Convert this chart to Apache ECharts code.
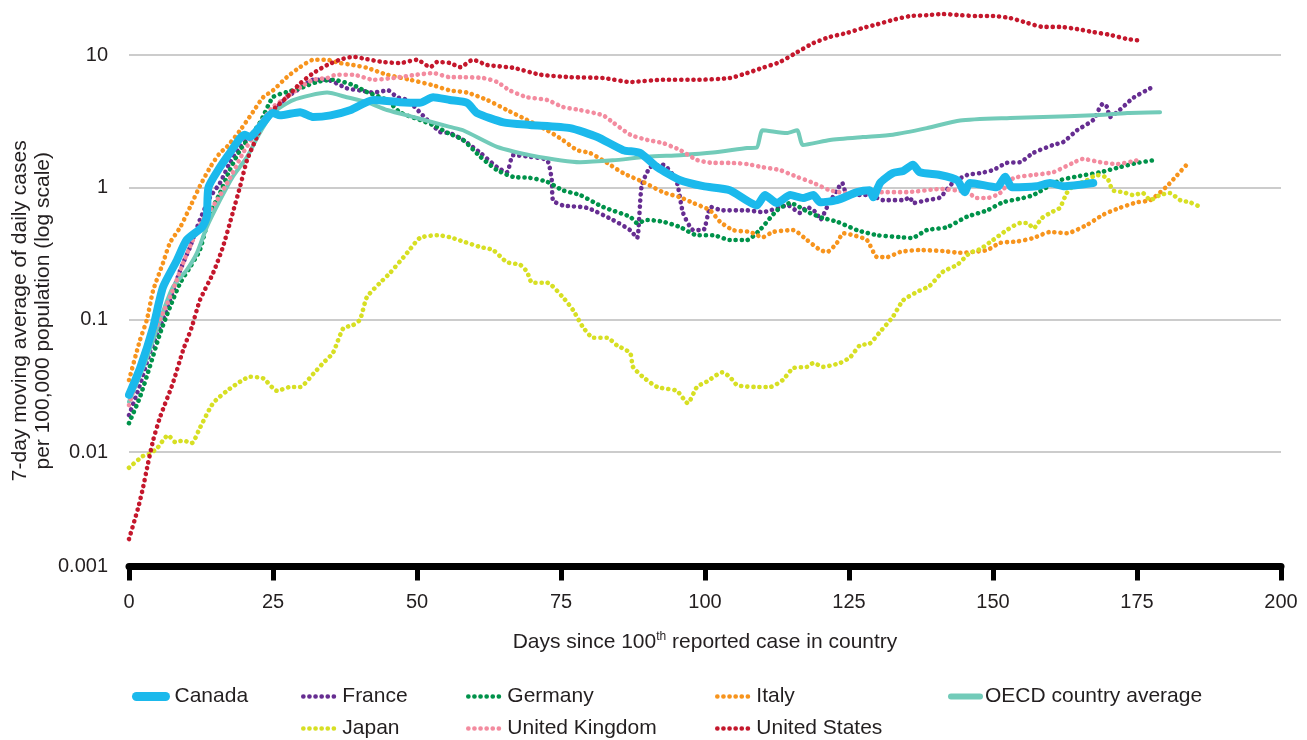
<!DOCTYPE html>
<html>
<head>
<meta charset="utf-8">
<title>7-day moving average of daily cases</title>
<script src="https://cdn.jsdelivr.net/npm/echarts@6/dist/echarts.min.js"></script>
<style>
  html, body { margin: 0; padding: 0; background: #fff; }
  #main { width: 1307px; height: 740px; }
</style>
</head>
<body>
<div id="main"></div>
<script>
// [day since 100th case, 7-day avg cases per 100,000]
var canadaData = [[0,0.027],[2,0.044],[4.2,0.088],[5.9,0.176],[8.3,0.28],[10,0.40],[12.7,0.5],[13.5,0.6],[13.8,1.0],[15.8,1.42],[17.5,1.82],[19.3,2.36],[20.1,2.5],[21,2.4],[22.7,2.86],[25,3.65],[26.2,3.5],[29.7,3.7],[32,3.4],[35,3.5],[38.5,3.84],[42.4,4.57],[47,4.4],[50.5,4.35],[52.8,4.8],[55.7,4.57],[58.7,4.35],[60.4,3.65],[65,3.1],[69.6,2.96],[76.6,2.8],[81.3,2.4],[85.8,1.91],[88.7,1.82],[91.7,1.42],[95.7,1.13],[99.7,1.02],[104.3,0.95],[109,0.73],[110.4,0.875],[112.5,0.76],[114.8,0.875],[117,0.83],[118.8,0.875],[120,0.77],[122.9,0.8],[126.4,0.92],[128.6,0.95],[129.2,0.84],[130.4,1.08],[132.6,1.28],[134.4,1.33],[136.1,1.48],[137.3,1.3],[140.8,1.24],[143.8,1.13],[145.1,0.92],[146,1.08],[150.7,1.0],[152.1,1.2],[153.3,1.0],[157.6,1.02],[159.9,1.08],[162.2,1.02],[167.4,1.08]];
var franceData = [[0,0.019],[2,0.033],[3.6,0.056],[5.4,0.088],[7.1,0.14],[8.9,0.237],[10.6,0.354],[12.3,0.567],[14.1,0.845],[15.8,1.08],[17.5,1.53],[19.3,2.02],[22.7,2.86],[25,3.7],[27.4,4.8],[29.7,5.6],[32,6.5],[34.4,6.5],[37.8,5.6],[40.1,5.4],[42.4,5.2],[45,5.4],[46.5,4.8],[48.3,4.57],[51,3.5],[54,2.62],[55.7,2.57],[58,2.28],[61,1.82],[63.9,1.42],[65.6,1.3],[66.7,1.75],[69.6,1.7],[72.6,1.6],[73.4,1.13],[73.6,0.8],[75.3,0.73],[79.5,0.7],[84,0.567],[87,0.475],[88.2,0.414],[89,1.02],[90.5,1.42],[92.7,1.48],[95,1.13],[96.2,0.64],[98,0.475],[99.7,0.475],[101,0.71],[103,0.67],[107.3,0.67],[110,0.65],[114.4,0.73],[116.5,0.64],[117.7,0.71],[119.4,0.64],[120,0.567],[121.2,0.71],[122.9,0.95],[123.8,1.08],[124.7,0.875],[128.6,0.875],[130.9,0.8],[134.4,0.8],[135.6,0.84],[136.1,0.76],[138.5,0.8],[140.8,0.84],[143,1.08],[145.5,1.24],[147.7,1.28],[150,1.35],[152.4,1.53],[154.7,1.55],[157,1.82],[160.4,2.09],[162.2,2.2],[164.6,2.7],[167.4,3.23],[168.6,4.05],[169.1,4.3],[169.8,4.05],[170.3,3.4],[172,3.84],[174.3,4.73],[177.3,5.6]];
var germanyData = [[0,0.0165],[1.9,0.026],[3.6,0.044],[5.4,0.079],[7.1,0.124],[8.9,0.19],[10.6,0.25],[12.3,0.336],[14.1,0.64],[15.8,0.905],[17.5,1.35],[19.3,1.91],[22.7,3.06],[25,4.8],[27.4,5.25],[29.7,5.6],[32.6,6.25],[35.4,6.5],[38.9,5.93],[41.3,5.25],[44.8,4.57],[47,3.7],[50.5,3.23],[52.8,2.96],[55.4,2.57],[58,2.28],[61,1.7],[63.9,1.35],[66.7,1.2],[69.6,1.18],[72.6,1.1],[75.3,0.95],[78.3,0.875],[82.3,0.71],[87,0.6],[88.2,0.537],[90,0.567],[92.7,0.55],[95.7,0.5],[98.6,0.435],[101.4,0.435],[104.3,0.4],[107.3,0.4],[109.5,0.475],[112.5,0.67],[114.8,0.76],[118.2,0.64],[120.5,0.586],[122.9,0.55],[126.4,0.475],[129.9,0.435],[133.9,0.42],[135.9,0.414],[138.5,0.475],[142,0.5],[145.5,0.6],[149,0.67],[151.7,0.77],[155.2,0.83],[157,0.875],[161.6,1.13],[165.1,1.22],[168.6,1.3],[172,1.42],[175,1.53],[177.8,1.6]];
var italyData = [[0,0.035],[1.9,0.07],[3.1,0.1],[4.2,0.167],[5.9,0.268],[7.1,0.38],[8.9,0.5],[10.6,0.71],[12.3,1.02],[14.1,1.42],[15.8,1.82],[17,2.02],[19.3,2.7],[21.5,3.7],[23.3,4.8],[25,5.4],[27.4,6.8],[29.7,8.1],[32,9.2],[34.4,9.2],[36.6,8.7],[38.9,8.4],[41.3,8.0],[44.8,7.1],[48.8,6.5],[52.8,5.9],[55.7,5.4],[58.7,5.2],[62.2,4.57],[65.6,3.84],[69.1,3.23],[72.6,2.7],[75.3,2.28],[77.8,1.91],[80,1.82],[83,1.53],[85.8,1.28],[89.2,1.1],[92.7,0.92],[95.7,0.84],[98,0.76],[100.9,0.67],[102.6,0.55],[104.9,0.475],[107.8,0.46],[110,0.42],[111.8,0.46],[115.3,0.475],[117.7,0.4],[120,0.336],[121.2,0.325],[122.9,0.38],[124,0.45],[125.7,0.435],[128.1,0.4],[129.9,0.297],[131.6,0.297],[133.9,0.325],[137.3,0.336],[141.3,0.33],[144.3,0.32],[146.5,0.325],[149,0.336],[151.2,0.38],[154.2,0.39],[157,0.414],[159.9,0.46],[162.8,0.45],[166.3,0.52],[169.1,0.62],[172,0.7],[175,0.77],[177.3,0.8],[180.2,1.02],[182,1.24],[183.9,1.53]];
var oecdData = [[0,0.024],[3,0.05],[5.4,0.1],[7.6,0.176],[10,0.237],[11.8,0.32],[13.5,0.5],[15.8,0.8],[18,1.2],[20.5,1.7],[22.7,2.57],[25,3.65],[28.5,4.57],[34.4,5.2],[37.8,4.8],[41.3,4.4],[44.8,3.84],[50,3.34],[55.7,2.86],[58,2.7],[63.9,2.02],[69.6,1.75],[78.3,1.55],[84,1.6],[90,1.7],[95.7,1.75],[101.4,1.83],[107.3,1.98],[109,2.0],[110,2.7],[114.2,2.57],[116,2.7],[117,2.09],[121.7,2.28],[127.4,2.4],[132.6,2.5],[138.5,2.8],[144.3,3.2],[153,3.34],[158.7,3.4],[167.4,3.5],[173.3,3.65],[179,3.7]];
var japanData = [[0,0.0076],[2.4,0.0093],[3.6,0.0097],[4.9,0.0107],[6.8,0.0134],[8,0.0119],[9.4,0.0122],[10.9,0.0117],[12.3,0.0152],[14.6,0.0234],[17,0.029],[19.3,0.034],[21,0.037],[23.3,0.036],[25.7,0.029],[28,0.031],[29.7,0.031],[32,0.039],[33.7,0.047],[35.4,0.056],[37.2,0.086],[38.9,0.091],[40.1,0.1],[41.3,0.148],[43.6,0.19],[45.3,0.225],[48.3,0.32],[50.5,0.414],[53.5,0.435],[55.7,0.42],[58,0.39],[61,0.354],[63.2,0.336],[65.6,0.272],[67.9,0.26],[69.1,0.23],[70,0.19],[72.6,0.19],[75.3,0.148],[77.1,0.118],[78.8,0.088],[80.6,0.073],[83,0.073],[84.7,0.064],[87,0.056],[87.5,0.044],[89.2,0.037],[91.7,0.031],[95.1,0.029],[97,0.0234],[98.6,0.031],[100.3,0.034],[103,0.04],[104.3,0.037],[105.6,0.032],[109,0.031],[111.3,0.031],[113.5,0.035],[115.3,0.043],[117.7,0.044],[118.8,0.047],[120.5,0.044],[123.4,0.047],[125.2,0.052],[126.9,0.064],[128.6,0.066],[130.4,0.081],[132.6,0.105],[134.4,0.14],[136.8,0.162],[139,0.18],[141.3,0.23],[143.8,0.26],[146,0.32],[147.7,0.34],[150,0.4],[152.4,0.475],[154.7,0.537],[156,0.537],[157,0.49],[158.5,0.586],[160.2,0.65],[161.6,0.7],[162.8,0.905],[163.9,1.02],[166.3,1.13],[168,1.24],[169.8,1.18],[170.8,0.95],[172.6,0.92],[174.3,0.875],[176,0.905],[177.3,0.8],[179,0.875],[180.7,0.905],[182.5,0.8],[184.2,0.77],[186,0.71]];
var ukData = [[0,0.0226],[2.4,0.05],[4.2,0.079],[5.9,0.112],[7.6,0.167],[9.4,0.268],[11.1,0.4],[12.8,0.567],[15.3,0.8],[17.5,1.17],[19.8,1.82],[21.5,2.4],[22.7,3.0],[25,4.05],[27.4,4.8],[29.7,5.7],[32,6.5],[34.4,6.7],[36,7.1],[38.9,7.1],[42.4,6.5],[45.8,6.7],[50,7.1],[52.8,7.3],[55.7,6.8],[58,6.8],[61.5,6.7],[63.9,6.25],[66.1,5.4],[69.1,4.8],[72.6,4.57],[75.3,4.05],[78.3,3.84],[82.3,3.5],[84,3.1],[87,2.5],[90,2.28],[92.7,2.16],[95.7,1.91],[98.6,1.61],[101.4,1.53],[104.3,1.53],[107.3,1.5],[110,1.42],[113,1.35],[116,1.2],[118.8,1.08],[121.7,0.95],[124.7,0.905],[127.4,0.92],[130.4,0.92],[135,0.92],[140.8,0.97],[145.5,0.92],[147.2,0.83],[149,0.83],[151.2,0.905],[153.5,1.17],[157,1.24],[160.4,1.3],[163.9,1.53],[165.6,1.64],[168.6,1.55],[171.5,1.5],[175,1.6]];
var usData = [[0,0.0022],[1.6,0.0038],[2.4,0.0053],[3.3,0.0082],[4.2,0.0123],[5.4,0.0184],[7.6,0.033],[9.4,0.059],[10.9,0.088],[12.3,0.14],[14.6,0.225],[16.3,0.354],[18,0.64],[19.3,1.02],[20.5,1.61],[22.2,2.4],[23.3,3.06],[25,3.84],[27.4,4.8],[29.7,6.1],[32,7.3],[34.4,8.4],[36.6,9.2],[38.9,9.7],[41.3,9.3],[44.1,8.85],[47,8.7],[50,9.2],[52.3,8.1],[53.5,8.85],[55.7,8.7],[57.5,8.1],[59.7,9.2],[62.2,8.4],[66.7,8.0],[71.4,7.1],[76.6,6.8],[82.3,6.7],[87,6.25],[92.7,6.5],[98.6,6.5],[104.3,6.7],[107.3,7.3],[110,8.0],[113,8.85],[116,10.5],[118.8,12.3],[121.7,13.7],[124.7,14.7],[127.4,16.0],[130,17.1],[132.6,18.4],[135.6,19.7],[138.5,20.0],[141.3,20.4],[144.3,20.0],[147.2,19.7],[150,19.7],[153,19.0],[155.9,17.5],[158.7,16.3],[161.6,16.3],[164.6,15.7],[167.4,14.9],[170.3,14.2],[173.3,13.2],[175.9,12.8]];

var yTickLabels = ['0.001', '0.01', '0.1', '1', '10'];
var xTicks = { min: 0, max: 200, step: 25 };

var FONT = 'Liberation Sans, Arial, Helvetica, sans-serif';
var TEXT = '#231f20';
var DOTS = [0.1, 6];

function dotted(name, data, color) {
  return {
    name: name, type: 'line', data: data, showSymbol: false, symbol: 'none',
    clip: false, smooth: 0.2, silent: true,
    lineStyle: { color: color, width: 4.6, type: DOTS, cap: 'round' },
    itemStyle: { color: color }
  };
}

// one legend block per entry so the columns sit where the original has them
function legendItem(name, left, top, w, lineW, gap) {
  return {
    data: [name], left: left, top: top, padding: 0,
    itemWidth: w, itemHeight: 12,
    itemStyle: { color: 'transparent', borderWidth: 0, opacity: 0 },
    lineStyle: { width: lineW || 'inherit', type: 'inherit', cap: 'round', opacity: 1 },
    textStyle: { fontFamily: FONT, fontSize: 21, color: TEXT, padding: [0, 0, 0, gap == null ? 2 : gap] },
    selectedMode: false
  };
}

var myChart = echarts.init(document.getElementById('main'), null, { renderer: 'canvas' });

var option = {
  animation: false,
  backgroundColor: '#ffffff',
  grid: { left: 129, right: 26, top: 55, bottom: 173.5, containLabel: false, outerBoundsMode: 'none' },
  legend: [
    legendItem('Canada', 132, 686, 29, 9, 4),
    legendItem('France', 301, 686, 32),
    legendItem('Germany', 466, 686, 32),
    legendItem('Italy', 715, 686, 32),
    legendItem('OECD country average', 948, 686, 29, 6, 0),
    legendItem('Japan', 301, 718, 32),
    legendItem('United Kingdom', 466, 718, 32),
    legendItem('United States', 715, 718, 32)
  ],
  xAxis: {
    type: 'value',
    min: xTicks.min, max: xTicks.max, interval: xTicks.step,
    name: '{a|Days since 100}{s|th}{a| reported case in country}',
    nameLocation: 'middle', nameGap: 64, nameMoveOverlap: false,
    nameTextStyle: {
      rich: {
        a: { fontFamily: FONT, fontSize: 21, color: TEXT, lineHeight: 24 },
        s: { fontFamily: FONT, fontSize: 12, color: TEXT, lineHeight: 24, verticalAlign: 'top', padding: [0, 0, 8, 0] }
      }
    },
    axisLine: { show: true, onZero: false, lineStyle: { color: '#000', width: 7 } },
    axisTick: { show: true, length: 14, lineStyle: { color: '#000', width: 5 } },
    axisLabel: { margin: 26, fontFamily: FONT, fontSize: 20, color: TEXT },
    splitLine: { show: false }
  },
  yAxis: {
    type: 'log', logBase: 10,
    min: 0.001364, max: 10,
    name: '7-day moving average of daily cases\nper 100,000 population (log scale)',
    nameLocation: 'middle', nameGap: 74, nameRotate: 90, nameMoveOverlap: false,
    nameTextStyle: { fontFamily: FONT, fontSize: 21, color: TEXT, lineHeight: 23 },
    axisLine: { show: false },
    axisTick: { show: false },
    axisLabel: {
      margin: 21, fontFamily: FONT, fontSize: 20, color: TEXT,
      formatter: function (v) {
        var e = Math.round(Math.log10(v));
        if (v < 0.002) return yTickLabels[0];
        return yTickLabels[e + 3] || '';
      }
    },
    splitLine: { show: true, lineStyle: { color: '#cccccc', width: 2 } }
  },
  series: [
    {
      name: 'Canada', type: 'line', data: canadaData, showSymbol: false, symbol: 'none',
      clip: false, smooth: 0.2, z: 5, silent: true,
      lineStyle: { color: '#1bb9ec', width: 8, cap: 'round', join: 'round' },
      itemStyle: { color: '#1bb9ec' }
    },
    dotted('France', franceData, '#662d91'),
    dotted('Germany', germanyData, '#00924a'),
    dotted('Italy', italyData, '#f7941d'),
    {
      name: 'OECD country average', type: 'line', data: oecdData, showSymbol: false, symbol: 'none',
      clip: false, smooth: 0.2, z: 3, silent: true,
      lineStyle: { color: '#72cbb9', width: 4, cap: 'round', join: 'round' },
      itemStyle: { color: '#72cbb9' }
    },
    dotted('Japan', japanData, '#d7df23'),
    dotted('United Kingdom', ukData, '#f38b9f'),
    dotted('United States', usData, '#c4172c')
  ]
};

myChart.setOption(option);
</script>
</body>
</html>
